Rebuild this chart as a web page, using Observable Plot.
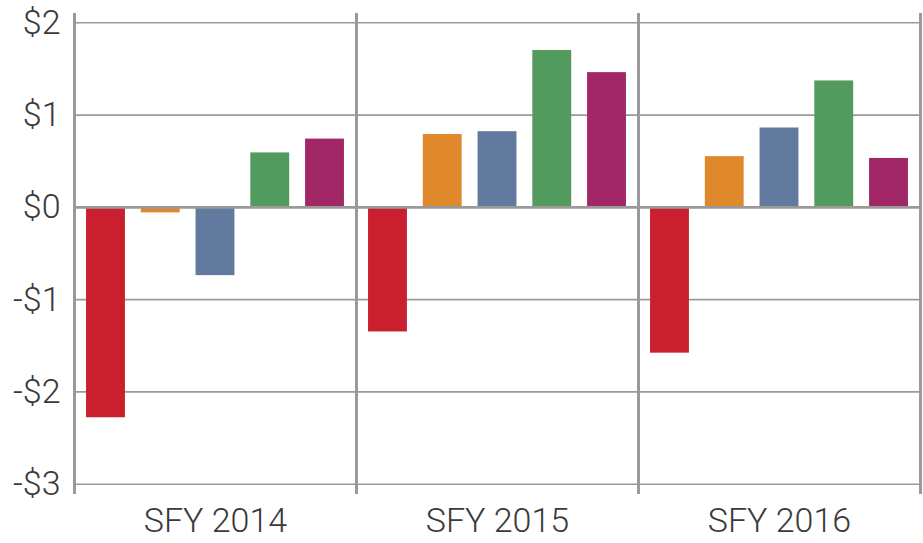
<!DOCTYPE html>
<html>
<head>
<meta charset="utf-8">
<script src="https://cdn.jsdelivr.net/npm/d3@7"></script>
<script src="https://cdn.jsdelivr.net/npm/@observablehq/plot@0.6"></script>
<style>
  html, body { margin: 0; padding: 0; background: #fff; }
</style>
</head>
<body>
<div id="chart"></div>
<script>
const years = ["SFY 2014", "SFY 2015", "SFY 2016"];
const series = ["Series 1", "Series 2", "Series 3", "Series 4", "Series 5"];
const colors = ["#C91F2F", "#E0892C", "#617A9E", "#539A5F", "#A12766"];
const values2014 = [-2.28, -0.06, -0.74, 0.59, 0.74];
const values2015 = [-1.35, 0.79, 0.82, 1.70, 1.46];
const values2016 = [-1.58, 0.55, 0.86, 1.37, 0.53];
const yTicks = [-3, -2, -1, 0, 1, 2];

const allValues = [values2014, values2015, values2016];
const data = [];
years.forEach((yr, i) => series.forEach((s, j) => data.push({year: yr, series: s, value: allValues[i][j]})));

const fmt = d => (d < 0 ? "-" : "") + "$" + Math.abs(d);

const chart = Plot.plot({
  width: 923,
  height: 543,
  marginLeft: 74,
  marginRight: 3,
  marginTop: 14,
  marginBottom: 51,
  style: {fontFamily: "Roboto", fontWeight: 300, fontSize: "34px", color: "#3a3a3a", background: "#fff"},
  fx: {domain: years, padding: 0, axis: "bottom", tickSize: 0, tickPadding: 15, label: null},
  x: {domain: series, paddingInner: 0.29, paddingOuter: 0.22, round: false, axis: null},
  y: {domain: [-3.09, 2.09], ticks: yTicks, tickFormat: fmt, tickSize: 0, tickPadding: 14, label: null},
  color: {domain: series, range: colors},
  marks: [
    Plot.ruleY(yTicks.filter(d => d !== 0), {stroke: "#9a9a9a", strokeWidth: 1.6}),
    Plot.barY(data, {fx: "year", x: "series", y: "value", fill: "series"}),
    Plot.ruleY([0], {stroke: "#9a9a9a", strokeWidth: 2.6}),
    Plot.frame({anchor: "left", stroke: "#9a9a9a", strokeWidth: 3}),
    Plot.frame({anchor: "right", stroke: "#9a9a9a", strokeWidth: 3})
  ]
});
document.getElementById("chart").appendChild(chart);
</script>
</body>
</html>
